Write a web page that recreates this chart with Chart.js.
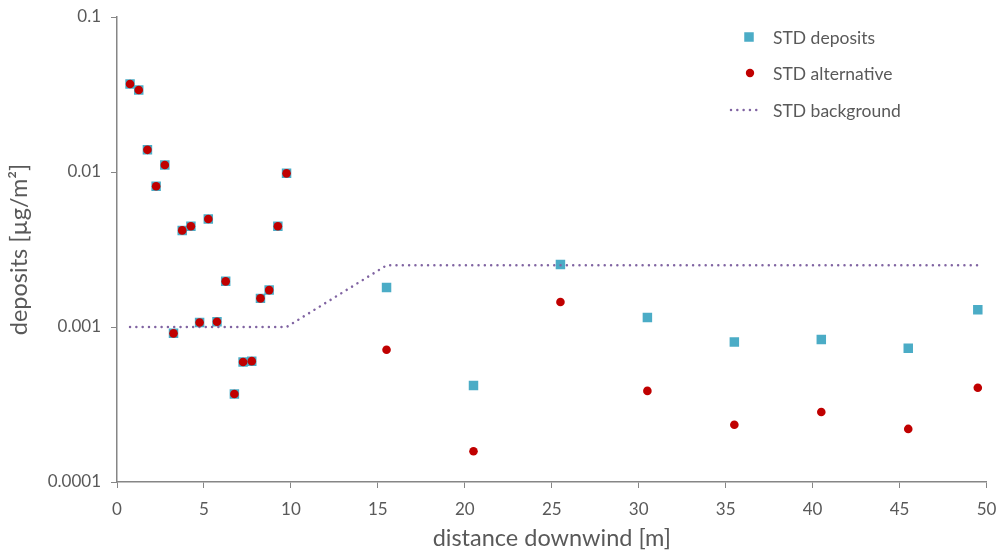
<!DOCTYPE html>
<html>
<head>
<meta charset="utf-8">
<script src="https://cdn.jsdelivr.net/npm/chart.js@4"></script>
<style>
  html, body { margin: 0; padding: 0; background: #fff; }
</style>
</head>
<body>
<canvas id="myChart" width="999" height="553"></canvas>
<script>
// distance downwind [m]
const distances = [
    0.75, 1.25, 1.75, 2.25, 2.75, 3.25, 3.75, 4.25, 4.75, 5.25,
    5.75, 6.25, 6.75, 7.25, 7.75, 8.25, 8.75, 9.25, 9.75,
    15.5, 20.5, 25.5, 30.5, 35.5, 40.5, 45.5, 49.5,
];

// deposits [µg/m²]
const stdDeposits = [
    0.037, 0.0338, 0.0139, 0.0081, 0.0111, 0.00091, 0.0042, 0.00447, 0.00107, 0.00498,
    0.00108, 0.00197, 0.00037, 0.000594, 0.000602, 0.00153, 0.00173, 0.00447, 0.0098,
    0.0018, 0.00042, 0.00253, 0.00115, 0.0008, 0.00083, 0.00073, 0.00129,
];

const stdAlternative = [
    0.037, 0.0338, 0.0139, 0.0081, 0.0111, 0.00091, 0.0042, 0.00447, 0.00107, 0.00498,
    0.00108, 0.00197, 0.00037, 0.000594, 0.000602, 0.00153, 0.00173, 0.00447, 0.0098,
    0.000714, 0.000158, 0.00145, 0.000387, 0.000234, 0.000283, 0.00022, 0.000406,
];

const stdBackground = [
    0.001, 0.001, 0.001, 0.001, 0.001, 0.001, 0.001, 0.001, 0.001, 0.001,
    0.001, 0.001, 0.001, 0.001, 0.001, 0.001, 0.001, 0.001, 0.001,
    0.0025, 0.0025, 0.0025, 0.0025, 0.0025, 0.0025, 0.0025, 0.0025,
];

const yTicks = [0.0001, 0.001, 0.01, 0.1];
const yTickLabels = ['0.0001', '0.001', '0.01', '0.1'];

const toPoints = (ys) => distances.map((x, i) => ({ x: x, y: ys[i] }));

const textColor = '#595959';
const axisColor = '#868686';
const fontFamily = 'Lato, "Open Sans", sans-serif';

// legend drawn in the top right corner, stacked like the original
const cornerLegend = {
    id: 'cornerLegend',
    afterDraw(chart) {
        const ctx = chart.ctx;
        const left = chart.width - 250;
        ctx.save();
        ctx.font = '17.5px ' + fontFamily;
        ctx.textBaseline = 'middle';

        // STD deposits
        ctx.fillStyle = '#4bacc6';
        ctx.fillRect(left - 4.75, 37 - 4.75, 9.5, 9.5);
        // STD alternative
        ctx.fillStyle = '#c00000';
        ctx.beginPath();
        ctx.arc(left + 1, 73, 4.2, 0, Math.PI * 2);
        ctx.fill();
        // STD background
        ctx.strokeStyle = '#8064a2';
        ctx.lineWidth = 2.5;
        ctx.lineCap = 'round';
        ctx.setLineDash([0.01, 6.3]);
        ctx.beginPath();
        ctx.moveTo(left - 18, 110);
        ctx.lineTo(left + 13, 110);
        ctx.stroke();

        ctx.fillStyle = textColor;
        const names = chart.data.datasets.map(d => d.label);
        ctx.fillText(names[0], left + 24, 38);
        ctx.fillText(names[1], left + 24, 74);
        ctx.fillText(names[2], left + 24, 111);
        ctx.restore();
    }
};

const data = {
    datasets: [{
        label: 'STD deposits',
        data: toPoints(stdDeposits),
        showLine: false,
        pointStyle: 'rect',
        pointRadius: 6.7,
        pointHoverRadius: 6.7,
        backgroundColor: '#4bacc6',
        borderColor: '#4bacc6',
        borderWidth: 0,
        order: 3,
    }, {
        label: 'STD alternative',
        data: toPoints(stdAlternative),
        showLine: false,
        pointStyle: 'circle',
        pointRadius: 4.3,
        pointHoverRadius: 4.3,
        backgroundColor: '#c00000',
        borderColor: '#c00000',
        borderWidth: 0,
        order: 1,
    }, {
        label: 'STD background',
        data: toPoints(stdBackground),
        showLine: true,
        pointRadius: 0,
        borderColor: '#8064a2',
        borderWidth: 2.5,
        borderDash: [0.01, 6.3],
        borderCapStyle: 'round',
        fill: false,
        tension: 0,
        order: 2,
    }]
};

const config = {
    type: 'scatter',
    data: data,
    options: {
        responsive: false,
        animation: false,
        layout: { padding: { top: 17, right: 12.5, left: 0, bottom: 0 } },
        plugins: {
            legend: { display: false },
            tooltip: { enabled: false },
        },
        scales: {
            x: {
                type: 'linear',
                min: 0,
                max: 50,
                afterFit: (scale) => {
                    scale.height = 71;
                    scale.paddingLeft = 0;
                    scale.paddingRight = 0;
                },
                ticks: {
                    stepSize: 5,
                    color: textColor,
                    font: { family: fontFamily, size: 17 },
                    padding: 11,
                    maxRotation: 0,
                },
                grid: { drawOnChartArea: false, tickLength: 6, color: axisColor },
                border: { color: axisColor, width: 1.5 },
                title: {
                    display: true,
                    text: 'distance downwind [m]',
                    color: textColor,
                    font: { family: fontFamily, size: 23.5 },
                    padding: { top: 0, bottom: 0 },
                },
            },
            y: {
                type: 'logarithmic',
                min: 0.0001,
                max: 0.1,
                afterFit: (scale) => {
                    scale.width = 117;
                    scale.paddingTop = 0;
                    scale.paddingBottom = 0;
                },
                afterBuildTicks: (scale) => {
                    scale.ticks = yTicks.map(v => ({ value: v, major: true }));
                },
                ticks: {
                    color: textColor,
                    font: { family: fontFamily, size: 17 },
                    padding: 10,
                    callback: (value) => yTickLabels[yTicks.indexOf(value)] ?? '',
                },
                grid: { drawOnChartArea: false, tickLength: 6, color: axisColor },
                border: { color: axisColor, width: 1.5 },
                title: {
                    display: true,
                    text: 'deposits [µg/m²]',
                    color: textColor,
                    font: { family: fontFamily, size: 23.5 },
                    padding: { top: 5, bottom: 0 },
                },
            },
        },
    },
    plugins: [cornerLegend],
};

const myChart = new Chart(
    document.getElementById('myChart'),
    config
);
</script>
</body>
</html>
